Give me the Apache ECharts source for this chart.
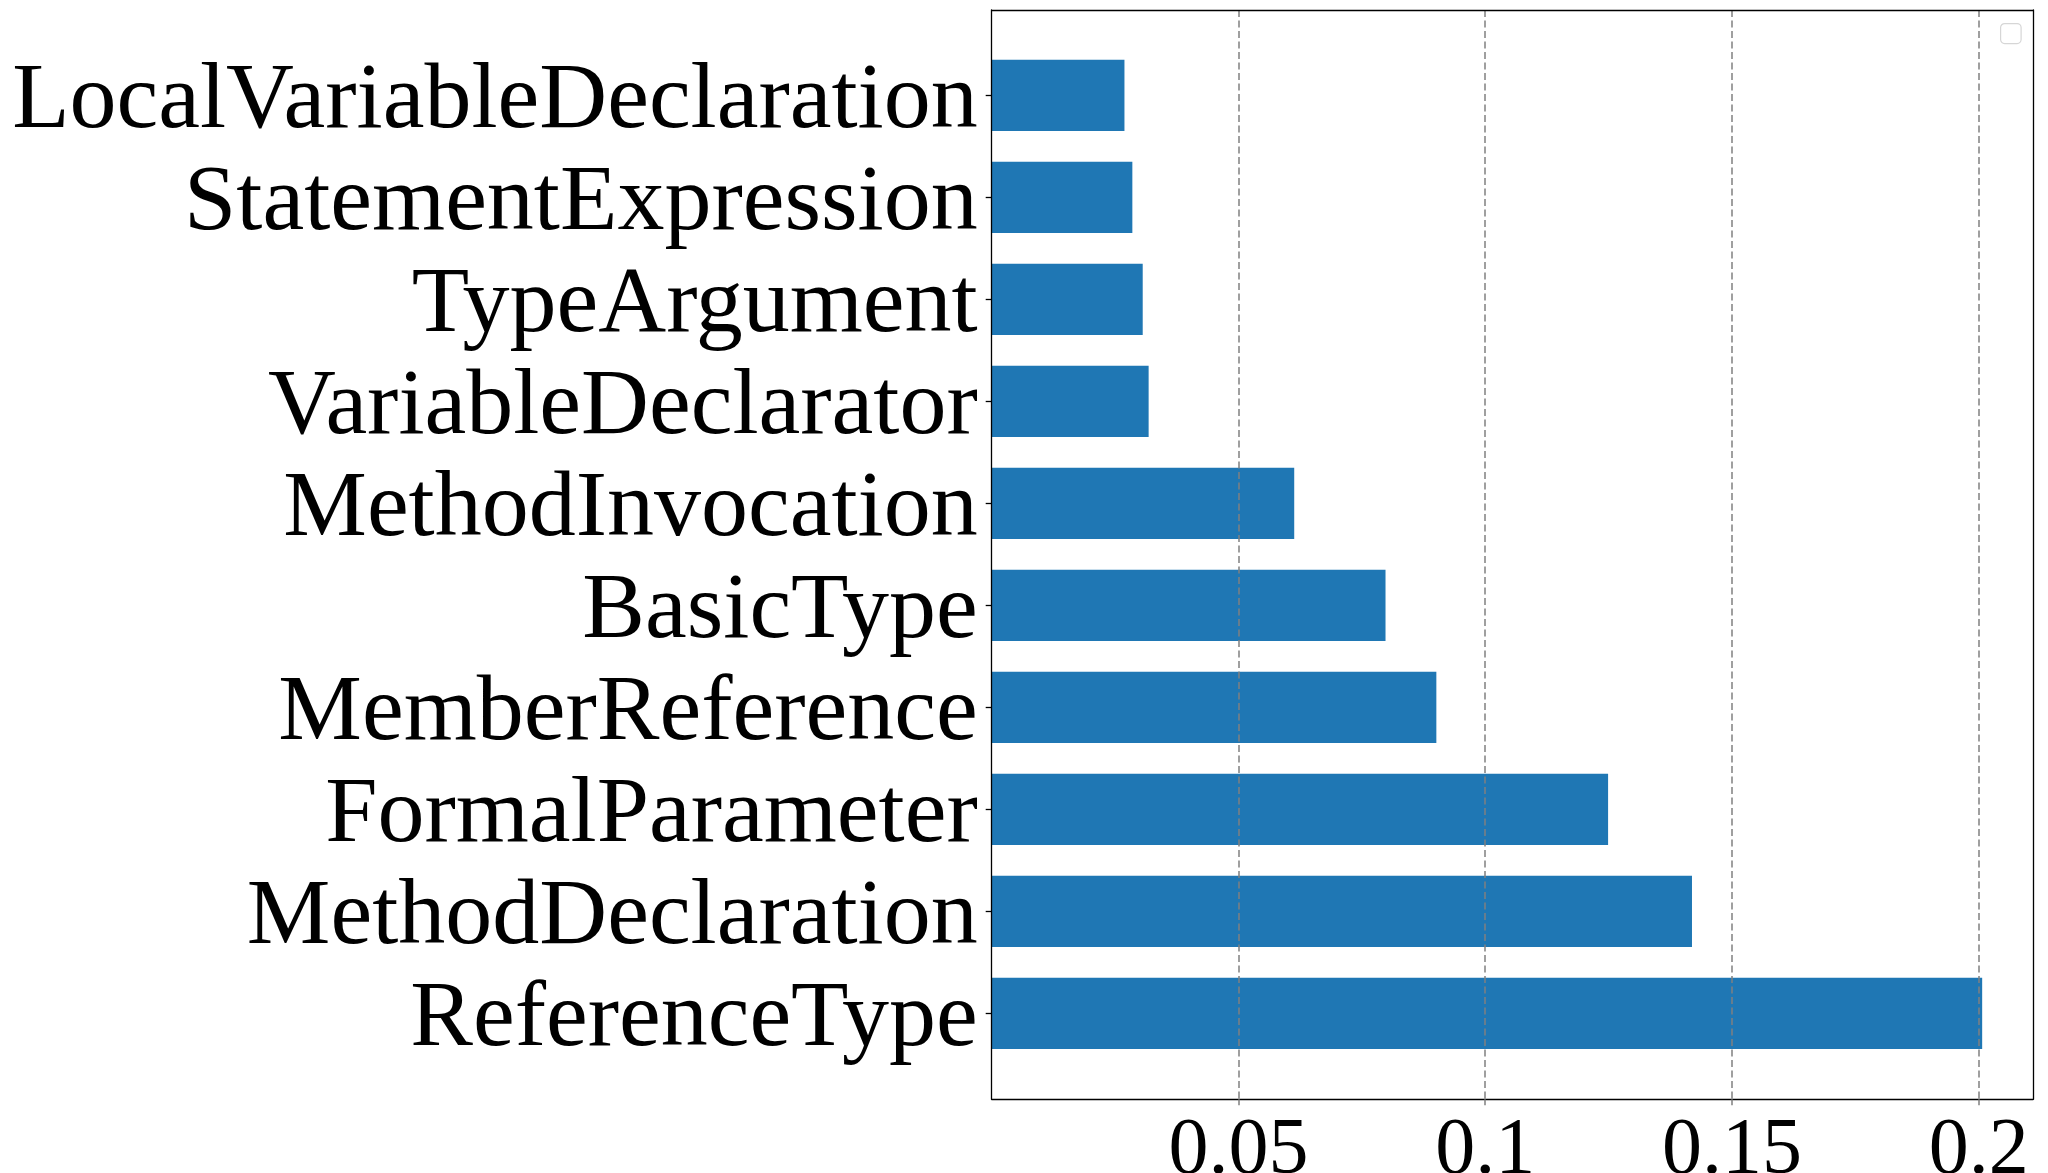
<!DOCTYPE html>
<html>
<head>
<meta charset="utf-8">
<script src="https://cdn.jsdelivr.net/npm/echarts@6/dist/echarts.min.js"></script>
<style>
html,body{margin:0;padding:0;background:#fff;}
#chart{width:2048px;height:1173px;}
</style>
</head>
<body>
<div id="chart"></div>
<script>
const categories = ['LocalVariableDeclaration','StatementExpression','TypeArgument','VariableDeclarator','MethodInvocation','BasicType','MemberReference','FormalParameter','MethodDeclaration','ReferenceType'];
const values = [0.0269, 0.0285, 0.0306, 0.0318, 0.0613, 0.0798, 0.0901, 0.1249, 0.1419, 0.2007];
const xTickValues = [0.05, 0.1, 0.15, 0.2];
const xTickLabels = ['0.05', '0.1', '0.15', '0.2'];

const X_MIN = 0, X_MAX = 0.211;
const FONT = '"Liberation Serif", "Times New Roman", serif';

const chart = echarts.init(document.getElementById('chart'));
chart.setOption({
  backgroundColor: '#fff',
  animation: false,
  grid: [
    {left: 991.7, right: 15, top: 44.35, height: 1020, outerBoundsMode: 'none', containLabel: false},
    {left: 991.7, right: 15, top: 10, bottom: 73.7, outerBoundsMode: 'none', containLabel: false}
  ],
  xAxis: [
    {gridIndex: 0, type: 'value', min: X_MIN, max: X_MAX, show: false},
    {gridIndex: 1, type: 'value', min: X_MIN, max: X_MAX, interval: 0.05, z: 10,
     axisLine: {show: true, onZero: false, lineStyle: {color: '#000', width: 1.3}},
     axisTick: {show: true, customValues: xTickValues, length: 6, lineStyle: {color: '#808080', width: 1.5}},
     splitLine: {show: true, showMinLine: true, showMaxLine: true, lineStyle: {color: '#808080', width: 1.5, type: [7, 3.5]}},
     axisLabel: {
       show: true, margin: 13, color: '#000', fontSize: 80, fontFamily: FONT,
       showMinLabel: true, showMaxLabel: true, hideOverlap: false,
       formatter: function (v) {
         for (let i = 0; i < xTickValues.length; i++) {
           if (Math.abs(v - xTickValues[i]) < 1e-6) return xTickLabels[i];
         }
         return '';
       }
     }
    },
    {gridIndex: 1, type: 'value', min: 0, max: 1, position: 'top', z: 12,
     axisLine: {show: true, onZero: false, lineStyle: {color: '#000', width: 1.3}},
     axisTick: {show: false}, axisLabel: {show: false}, splitLine: {show: false}}
  ],
  yAxis: [
    {gridIndex: 0, type: 'category', inverse: true, data: categories,
     axisLine: {show: false},
     axisTick: {show: true, alignWithLabel: true, interval: 0, length: 6, lineStyle: {color: '#000', width: 1.3}},
     axisLabel: {show: true, interval: 0, hideOverlap: false, margin: 14, color: '#000', fontSize: 94, fontFamily: FONT, lineHeight: 13, verticalAlign: 'top'},
     splitLine: {show: false}},
    {gridIndex: 1, type: 'value', min: 0, max: 1, z: 12,
     axisLine: {show: true, onZero: false, lineStyle: {color: '#000', width: 1.3}},
     axisTick: {show: false}, axisLabel: {show: false}, splitLine: {show: false}},
    {gridIndex: 1, type: 'value', min: 0, max: 1, position: 'right', z: 12,
     axisLine: {show: true, onZero: false, lineStyle: {color: '#000', width: 1.3}},
     axisTick: {show: false}, axisLabel: {show: false}, splitLine: {show: false}}
  ],
  series: [{
    type: 'bar', xAxisIndex: 0, yAxisIndex: 0,
    data: values,
    barCategoryGap: '30%',
    itemStyle: {color: '#1f77b4'}
  }],
  graphic: [{
    type: 'rect', left: 2000, top: 23,
    shape: {width: 20.5, height: 20, r: 4},
    style: {fill: '#fff', stroke: '#d6d6d6', lineWidth: 1.2},
    z: 100
  }]
});
</script>
</body>
</html>
